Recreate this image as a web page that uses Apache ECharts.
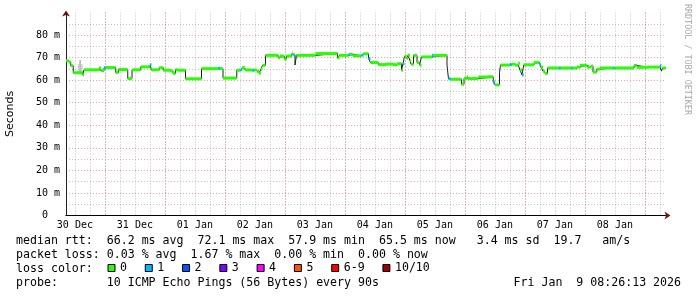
<!DOCTYPE html>
<html><head><meta charset="utf-8">
<script src="https://cdn.jsdelivr.net/npm/echarts@6/dist/echarts.min.js"></script>
<style>html,body{margin:0;padding:0;background:#fff}#c{width:697px;height:297px}</style>
</head><body><div id="c"></div>
<script>
// Time axis: hours since chart start (30 Dec 2025 08:26:13), 10 days span
const START_HOUR_OF_DAY = 8 + 26 / 60 + 13 / 3600;
const SPAN_HOURS = 240;
const dayLabels = ['30 Dec', '31 Dec', '01 Jan', '02 Jan', '03 Jan', '04 Jan', '05 Jan', '06 Jan', '07 Jan', '08 Jan'];
const yTickValues = [0, 10, 20, 30, 40, 50, 60, 70, 80];
const yMinorValues = [5, 15, 25, 35, 45, 55, 65, 75, 85];

// median rtt steps: start hour, median (ms), loss bucket (index into lossNames, null = none)
const segStart = [0.0, 1.0, 1.9, 2.9, 6.7, 7.2, 13.2, 14.0, 15.2, 16.0, 19.9, 21.0, 24.7, 26.4, 29.9, 33.6, 34.2, 37.3, 38.9, 41.6,
  42.8, 43.8, 44.8, 47.8, 54.2, 60.9, 61.6, 62.8, 68.3, 69.9, 70.4, 71.6, 74.6, 75.2, 76.4, 77.2, 78.0, 78.6, 79.8, 84.9,
  85.6, 87.3, 88.2, 90.3, 90.9, 91.6, 92.2, 99.8, 108.6, 109.4, 113.0, 113.6, 114.8, 118.2, 119.0, 121.0, 121.8, 124.9, 128.0, 130.8,
  132.4, 134.2, 134.8, 135.4, 136.2, 136.8, 137.6, 138.0, 139.0, 140.4, 141.4, 142.2, 146.4, 147.0, 152.4, 153.0, 153.8, 158.2, 159.2, 160.4,
  160.8, 164.9, 170.9, 171.6, 173.4, 173.8, 177.6, 178.3, 179.6, 180.9, 181.6, 182.4, 183.1, 187.2, 189.4, 190.0, 190.8, 191.6, 192.6, 197.2,
  197.8, 202.0, 202.6, 204.3, 205.6, 208.3, 209.9, 210.8, 212.3, 213.6, 218.8, 219.4, 227.2, 228.4, 232.8, 237.6, 238.2, 238.6];
const segMedian = [68.6, 68.0, 66.4, 63.3, 62.4, 64.6, 65.4, 64.2, 65.5, 65.6, 63.4, 64.7, 60.7, 64.6, 65.9, 66.8, 64.6, 65.5, 64.4, 64.1,
  63.0, 64.6, 64.4, 60.6, 65.1, 65.3, 65.1, 60.9, 64.4, 64.6, 65.5, 64.5, 64.4, 64.5, 63.8, 63.2, 64.9, 66.6, 71.0, 69.9,
  70.7, 69.4, 70.7, 71.7, 71.2, 66.7, 71.0, 71.8, 69.9, 71.0, 71.3, 71.4, 70.8, 71.1, 71.7, 69.6, 67.8, 66.9, 67.1, 66.8,
  67.3, 64.4, 67.3, 70.6, 69.7, 71.0, 68.6, 67.1, 71.0, 67.8, 66.7, 70.3, 71.0, 71.0, 66.7, 60.6, 60.4, 58.2, 60.8, 61.4,
  60.7, 61.4, 59.2, 57.9, 63.4, 66.7, 67.0, 67.1, 66.7, 67.5, 64.5, 62.3, 66.8, 67.8, 67.0, 65.8, 64.0, 63.0, 65.4, 65.4,
  65.4, 65.4, 65.4, 65.8, 66.6, 65.8, 66.2, 63.6, 64.9, 65.4, 65.4, 65.4, 66.5, 65.7, 65.8, 66.4, 64.0, 65.4];
const segLoss = [0, 0, 0, 0, 0, 0, 0, 0, 1, 0, 0, 0, 0, 0, 0, 1, 0, 0, 0, 0,
  0, 0, 0, 0, 0, 1, 0, 0, 0, 1, 0, 0, 1, 0, 0, 0, 0, 0, 0, 0,
  0, 0, 0, 0, 1, null, 0, 0, 0, 0, 1, 0, 0, 1, 0, 1, 0, 0, 0, 0,
  0, 0, 1, 0, 0, 0, 0, 0, 0, 0, 0, 0, 1, 0, null, 1, 0, 0, 0, 0,
  0, 0, 1, 0, null, 0, 1, 0, 0, 0, 0, 1, 0, 0, 1, 0, 0, 0, 0, 1,
  0, 1, 0, 0, 0, 0, 0, 0, 0, 0, 1, 0, 0, 0, 0, 1, null, 0];

// visible smoke (ping spread) patches: start hour, end hour, low ms, high ms
const smokeStart = [4.7, 5.3, 168.8, 131.0];
const smokeEnd = [6.7, 6.0, 170.8, 131.8];
const smokeLow = [63.3, 63.3, 61.4, 67.0];
const smokeHigh = [67.2, 68.9, 62.4, 67.8];

const lossNames = ['0', '1', '2', '3', '4', '5', '6-9', '10/10'];
const lossColors = ['#26ff00', '#00b8ff', '#0059ff', '#7e00ff', '#ff00ff', '#ff5500', '#ff0000', '#a00000'];

const statLines = [
  'median rtt:  66.2 ms avg  72.1 ms max  57.9 ms min  65.5 ms now   3.4 ms sd  19.7   am/s',
  'packet loss: 0.03 % avg  1.67 % max  0.00 % min  0.00 % now',
  'loss color:',
  'probe:       10 ICMP Echo Pings (56 Bytes) every 90s'
];
const dateText = 'Fri Jan  9 08:26:13 2026';
const watermark = 'RRDTOOL / TOBI OETIKER';

// ---- derived tick positions (hours since start) ----
function series(first, step) { const a = []; for (let t = first; t <= SPAN_HOURS + 1e-9; t += step) a.push(+t.toFixed(4)); return a; }
const tick6h = series(6 * Math.ceil(START_HOUR_OF_DAY / 6) - START_HOUR_OF_DAY, 6);
const tickMidnight = series(24 - START_HOUR_OF_DAY, 24);
const noonFirst = 12 - START_HOUR_OF_DAY;
const tickNoon = series(noonFirst, 24);

const segs = segStart.map((h, i) => [h, i + 1 < segStart.length ? segStart[i + 1] : SPAN_HOURS, segMedian[i], segLoss[i]]);
const lineData = segs.map(s => [s[0], s[2]]);
lineData.push([SPAN_HOURS, segMedian[segMedian.length - 1]]);

const MONO = '"DejaVu Sans Mono", monospace';
const GREY = 'rgba(143,143,143,0.55)';
const RED = 'rgba(224,80,80,0.55)';
const DASH = [1, 2];

function bandItem(params, api) {
  const a = api.coord([api.value(0), api.value(2)]);
  const b = api.coord([api.value(1), api.value(2)]);
  return { type: 'rect', shape: { x: a[0], y: a[1] - 1.5, width: b[0] - a[0], height: 3 }, style: { fill: api.visual('color') } };
}
function smokeItem(params, api) {
  const a = api.coord([api.value(0), api.value(3)]);
  const b = api.coord([api.value(1), api.value(2)]);
  return { type: 'rect', shape: { x: a[0], y: a[1], width: b[0] - a[0], height: b[1] - a[1] }, style: { fill: params.dataIndex === 1 ? '#bdbdbd' : '#d2d2d2' } };
}

const baseX = { type: 'value', min: 0, max: SPAN_HOURS, position: 'bottom', axisLine: { show: false, onZero: false }, axisTick: { show: false }, axisLabel: { show: false }, splitLine: { show: false } };
const baseY = { type: 'value', min: 0, max: 90, position: 'left', axisLine: { show: false, onZero: false }, axisTick: { show: false }, axisLabel: { show: false }, splitLine: { show: false } };

const option = {
  animation: false,
  backgroundColor: '#ffffff',
  grid: { left: 66, right: 31, top: 12.5, bottom: 81.5, containLabel: false, outerBoundsMode: 'none' },
  xAxis: [
    Object.assign({}, baseX, { z: 1, axisTick: { show: false, customValues: tick6h }, splitLine: { show: true, lineStyle: { color: GREY, type: DASH, width: 1 } } }),
    Object.assign({}, baseX, { z: 1, axisTick: { show: false, customValues: tickMidnight }, splitLine: { show: true, lineStyle: { color: RED, type: DASH, width: 1 } } }),
    Object.assign({}, baseX, { z: 0, axisLine: { show: true, onZero: false, symbol: ['none', 'arrow'], symbolSize: [6, 6], symbolOffset: [0, 4.5], lineStyle: { color: '#801010', width: 1 } } }),
    Object.assign({}, baseX, {
      z: 2,
      axisLine: { show: true, onZero: false, lineStyle: { color: '#000', width: 1 } },
      axisTick: { show: false, customValues: tickNoon },
      axisLabel: { show: true, customValues: tickNoon, margin: 5, color: '#000', fontFamily: MONO, fontSize: 10,
        formatter: v => dayLabels[Math.round((v - noonFirst) / 24)] }
    })
  ],
  yAxis: [
    Object.assign({}, baseY, { z: 1, axisTick: { show: false, customValues: yMinorValues }, splitLine: { show: true, lineStyle: { color: GREY, type: DASH, width: 1 } } }),
    Object.assign({}, baseY, { z: 0, axisLine: { show: true, onZero: false, symbol: ['none', 'arrow'], symbolSize: [6, 6], symbolOffset: [0, 2], lineStyle: { color: '#801010', width: 1 } } }),
    Object.assign({}, baseY, {
      z: 2,
      name: 'Seconds', nameLocation: 'middle', nameGap: 50,
      nameTextStyle: { fontFamily: '"DejaVu Sans", sans-serif', fontSize: 11, color: '#000' },
      axisLine: { show: true, onZero: false, lineStyle: { color: '#202020', width: 1 } },
      axisTick: { show: false, customValues: yTickValues },
      axisLabel: { show: true, customValues: yTickValues, margin: 6, color: '#000', fontFamily: MONO, fontSize: 10,
        formatter: v => v === 0 ? '0  ' : v + ' m' },
      splitLine: { show: true, lineStyle: { color: RED, type: DASH, width: 1 } }
    })
  ],
  legend: {
    data: lossNames, left: 107.5, top: 262, padding: 0, itemWidth: 7, itemHeight: 7, itemGap: 17.8,
    icon: 'rect', selectedMode: false,
    itemStyle: { borderColor: '#000', borderWidth: 1 },
    textStyle: { fontFamily: MONO, fontSize: 11.6, color: '#000', padding: [0, 0, 0, 0] }
  },
  graphic: [
    { type: 'text', x: 16, y: 241, style: { text: statLines[0], font: '11.6px ' + MONO, fill: '#000', align: 'left', verticalAlign: 'middle' } },
    { type: 'text', x: 16, y: 255, style: { text: statLines[1], font: '11.6px ' + MONO, fill: '#000', align: 'left', verticalAlign: 'middle' } },
    { type: 'text', x: 16, y: 269, style: { text: statLines[2], font: '11.6px ' + MONO, fill: '#000', align: 'left', verticalAlign: 'middle' } },
    { type: 'text', x: 16, y: 283, style: { text: statLines[3], font: '11.6px ' + MONO, fill: '#000', align: 'left', verticalAlign: 'middle' } },
    { type: 'text', x: 513.5, y: 283, style: { text: dateText, font: '11.6px ' + MONO, fill: '#000', align: 'left', verticalAlign: 'middle' } },
    { type: 'text', x: 687, y: 4, rotation: -Math.PI / 2, style: { text: watermark, font: '8.4px ' + MONO, fill: '#a8a8a8', align: 'left', verticalAlign: 'middle' } }
  ],
  series: [
    { type: 'custom', name: 'smoke', xAxisIndex: 3, yAxisIndex: 2, z: 3, renderItem: smokeItem, encode: { x: [0, 1], y: [2, 3] },
      data: smokeStart.map((s, i) => [s, smokeEnd[i], smokeLow[i], smokeHigh[i]]) },
    { type: 'line', name: 'median', xAxisIndex: 3, yAxisIndex: 2, z: 4, step: 'end', showSymbol: false, symbol: 'none',
      lineStyle: { color: '#202020', width: 1 }, data: lineData }
  ].concat(lossNames.map((n, k) => ({
    type: 'custom', name: n, xAxisIndex: 3, yAxisIndex: 2, z: 5, renderItem: bandItem,
    itemStyle: { color: lossColors[k] }, encode: { x: [0, 1], y: 2 },
    data: segs.filter(s => s[3] === k).map(s => [s[0], s[1], s[2]])
  })))
};

const chart = echarts.init(document.getElementById('c'), null, { renderer: 'canvas' });
chart.setOption(option);
</script></body></html>
